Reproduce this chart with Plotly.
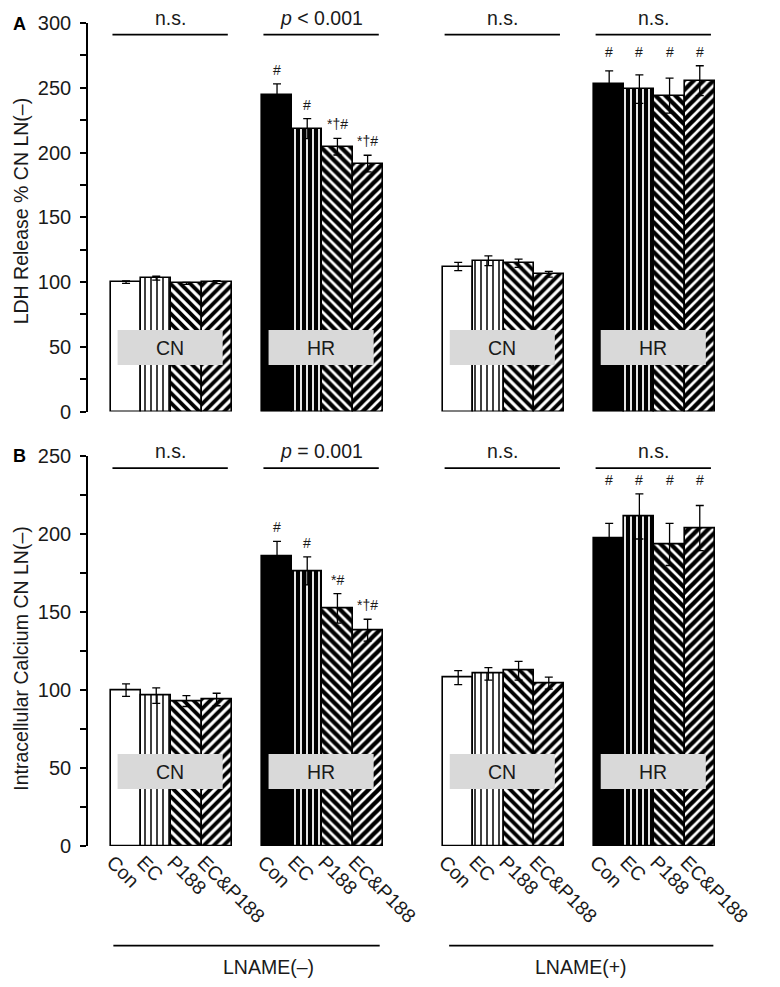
import plotly.graph_objects as go
from plotly.subplots import make_subplots

# ---------------- data ----------------
treatments = ["Con", "EC", "P188", "EC&amp;P188"]
group_names = ["CN", "HR", "CN", "HR"]
lname_names = ["LNAME(–)", "LNAME(+)"]

# Panel A: LDH release (% CN LN(-))
ldh_cn_lnm = [100, 103, 99, 100]
ldh_cn_lnm_err = [1.0, 1.5, 0.8, 1.2]
ldh_hr_lnm = [244.5, 218.5, 204.5, 191.5]
ldh_hr_lnm_err = [8.5, 7.7, 6.4, 6.4]
ldh_cn_lnp = [112, 116.5, 114.5, 106]
ldh_cn_lnp_err = [3.2, 3.8, 3.2, 2.2]
ldh_hr_lnp = [253, 249, 244, 255.5]
ldh_hr_lnp_err = [10, 11, 13.5, 11.5]

# Panel B: intracellular calcium (CN LN(-))
ca_cn_lnm = [100, 96.5, 93, 94]
ca_cn_lnm_err = [4, 5, 3.5, 4]
ca_hr_lnm = [186, 176.5, 152.5, 138.5]
ca_hr_lnm_err = [9.5, 9, 9.5, 7]
ca_cn_lnp = [108, 110.5, 112.5, 104.5]
ca_cn_lnp_err = [4.5, 4, 6, 3.8]
ca_hr_lnp = [197.5, 211.5, 193.5, 204]
ca_hr_lnp_err = [9.5, 14.5, 13.5, 14.5]

# significance marks
sig_a_hr_lnm = ["#", "#", "*†#", "*†#"]
sig_a_hr_lnp = ["#", "#", "#", "#"]
sig_b_hr_lnm = ["#", "#", "*#", "*†#"]
sig_b_hr_lnp = ["#", "#", "#", "#"]
pvals_a = ["n.s.", "<i>p</i> &lt; 0.001", "n.s.", "n.s."]
pvals_b = ["n.s.", "<i>p</i> = 0.001", "n.s.", "n.s."]

ytitle_a = "LDH Release % CN LN(–)"
ytitle_b = "Intracellular Calcium CN LN(–)"

# ---------------- layout helpers ----------------
FONT = "Liberation Sans, Arial, sans-serif"
TXT = "#1a1a1a"
FS = 19.5
group_start = [0, 5, 11, 16]
XR = [-1.26, 19.67]
W, H = 780, 987
ML, MR, MT, MB = 88, 60, 20, 141

fig = make_subplots(rows=2, cols=1, vertical_spacing=0.0)
fig.update_layout(
    yaxis=dict(domain=[0.5278, 1.0]),
    yaxis2=dict(domain=[0.0, 0.4734]),
)


def bar_style(i, hr):
    if i == 0:
        return dict(color="black" if hr else "white")
    if i == 1:
        if hr:
            return dict(color="black", pattern=dict(shape="|", bgcolor="black",
                        fgcolor="white", solidity=0.3, size=6, fillmode="replace"))
        return dict(color="white", pattern=dict(shape="|", bgcolor="white",
                    fgcolor="black", solidity=0.25, size=6, fillmode="replace"))
    shp = "\\" if i == 2 else "/"
    return dict(color="white", pattern=dict(shape=shp, bgcolor="white",
                fgcolor="black", solidity=0.62 if hr else 0.55, size=7,
                fillmode="replace"))


def add_group(row, vals, errs, start, hr):
    for i in range(4):
        st = bar_style(i, hr)
        marker = dict(color=st["color"], line=dict(color="black", width=1.6))
        if "pattern" in st:
            marker["pattern"] = st["pattern"]
        fig.add_trace(go.Bar(
            x=[start + i], y=[vals[i]], width=1.0,
            marker=marker,
            error_y=dict(type="data", array=[errs[i]], visible=True,
                         color="black", thickness=1.3, width=4),
            showlegend=False, hoverinfo="skip",
        ), row=row, col=1)


panelA = [(ldh_cn_lnm, ldh_cn_lnm_err), (ldh_hr_lnm, ldh_hr_lnm_err),
          (ldh_cn_lnp, ldh_cn_lnp_err), (ldh_hr_lnp, ldh_hr_lnp_err)]
panelB = [(ca_cn_lnm, ca_cn_lnm_err), (ca_hr_lnm, ca_hr_lnm_err),
          (ca_cn_lnp, ca_cn_lnp_err), (ca_hr_lnp, ca_hr_lnp_err)]

for g, (v, e) in enumerate(panelA):
    add_group(1, v, e, group_start[g], group_names[g] == "HR")
for g, (v, e) in enumerate(panelB):
    add_group(2, v, e, group_start[g], group_names[g] == "HR")

annotations = []
shapes = []


def panel_decor(xref, yref, data, sig_lnm, sig_lnp, pvals, line_y, box_y):
    for g in range(4):
        s = group_start[g]
        shapes.append(dict(type="rect", xref=xref, yref=yref,
                           x0=s - 0.28, x1=s + 3.2, y0=box_y[0], y1=box_y[1],
                           fillcolor="#d9d9d9", line=dict(width=0), layer="above"))
        annotations.append(dict(xref=xref, yref=yref, x=s + 1.46,
                                y=(box_y[0] + box_y[1]) / 2, text=group_names[g],
                                xanchor="center", yanchor="middle",
                                showarrow=False, font=dict(size=FS, color=TXT)))
        shapes.append(dict(type="line", xref=xref, yref=yref,
                           x0=s - 0.45, x1=s + 3.37, y0=line_y, y1=line_y,
                           line=dict(color="black", width=1.6)))
        annotations.append(dict(xref=xref, yref=yref, x=s + 1.46, y=line_y,
                                yanchor="bottom", xanchor="center", yshift=4,
                                text=pvals[g], showarrow=False,
                                font=dict(size=FS, color=TXT)))
    v, e = data[1]
    for i in range(4):
        annotations.append(dict(xref=xref, yref=yref, x=group_start[1] + i,
                                y=v[i] + e[i], yshift=14, text=sig_lnm[i],
                                xanchor="center", yanchor="middle",
                                showarrow=False, font=dict(size=14, color=TXT)))
    v, e = data[3]
    top = max(a + b for a, b in zip(v, e))
    for i in range(4):
        annotations.append(dict(xref=xref, yref=yref, x=group_start[3] + i,
                                y=top, yshift=14, text=sig_lnp[i],
                                xanchor="center", yanchor="middle",
                                showarrow=False, font=dict(size=14, color=TXT)))


panel_decor("x", "y", panelA, sig_a_hr_lnm, sig_a_hr_lnp, pvals_a, 291, (36, 63))
panel_decor("x2", "y2", panelB, sig_b_hr_lnm, sig_b_hr_lnp, pvals_b, 242.5, (36.5, 59))

pw = W - ML - MR
ph = H - MT - MB


def px_x(px):
    return (px - ML) / pw


def px_y(py):
    return (H - MB - py) / ph


def data_to_paper_x(xv):
    return (xv - XR[0]) / (XR[1] - XR[0])


annotations.append(dict(xref="paper", yref="paper", x=px_x(21), y=px_y(209),
                        xanchor="center", yanchor="middle",
                        text=ytitle_a, textangle=-90, showarrow=False,
                        font=dict(size=FS, color=TXT)))
annotations.append(dict(xref="paper", yref="paper", x=px_x(21), y=px_y(658),
                        xanchor="center", yanchor="middle",
                        text=ytitle_b, textangle=-90, showarrow=False,
                        font=dict(size=FS, color=TXT)))
annotations.append(dict(xref="paper", yref="paper", x=px_x(19.5), y=px_y(21),
                        xanchor="center", yanchor="middle",
                        text="<b>A</b>", showarrow=False,
                        font=dict(size=18, color="black")))
annotations.append(dict(xref="paper", yref="paper", x=px_x(19.5), y=px_y(455),
                        xanchor="center", yanchor="middle",
                        text="<b>B</b>", showarrow=False,
                        font=dict(size=18, color="black")))

for k, (a, b, c) in enumerate([(-0.42, 8.4, 4.73), (10.7, 19.45, 15.06)]):
    shapes.append(dict(type="line", xref="paper", yref="paper",
                       x0=data_to_paper_x(a), x1=data_to_paper_x(b),
                       y0=px_y(946), y1=px_y(946),
                       line=dict(color="black", width=1.6)))
    annotations.append(dict(xref="paper", yref="paper", x=data_to_paper_x(c),
                            y=px_y(967), xanchor="center", yanchor="middle",
                            text=lname_names[k], showarrow=False,
                            font=dict(size=FS, color=TXT)))

tickpos = [group_start[g] + i - 0.45 for g in range(4) for i in range(4)]
ticktext = treatments * 4

axis_common = dict(range=XR, showline=False, ticks="", zeroline=False,
                   showgrid=False, fixedrange=True)
fig.update_xaxes(**axis_common, showticklabels=False, row=1, col=1)
fig.update_xaxes(**axis_common, tickvals=tickpos, ticktext=ticktext,
                 tickangle=45, tickfont=dict(size=FS, color=TXT),
                 row=2, col=1)

yax = dict(showline=True, linecolor="black", linewidth=1.6, ticks="outside",
           ticklen=6, tickwidth=1.5, tickcolor="black", showgrid=False,
           zeroline=False, tickfont=dict(size=20, color=TXT),
           ticklabelstandoff=5, fixedrange=True,
           minor=dict(ticks="outside", ticklen=6, tickwidth=1.5,
                      tickcolor="black", dtick=25, showgrid=False))
fig.update_yaxes(**yax, range=[0, 300], dtick=50, row=1, col=1)
fig.update_yaxes(**yax, range=[0, 250], dtick=50, row=2, col=1)

fig.update_layout(
    width=W, height=H,
    margin=dict(l=ML, r=MR, t=MT, b=MB),
    plot_bgcolor="white", paper_bgcolor="white",
    font=dict(family=FONT, color=TXT),
    barmode="overlay", bargap=0,
    shapes=shapes, annotations=annotations,
)

fig.write_html("out.html", config={"displayModeBar": False},
               post_script="document.body.style.margin='0px';")
